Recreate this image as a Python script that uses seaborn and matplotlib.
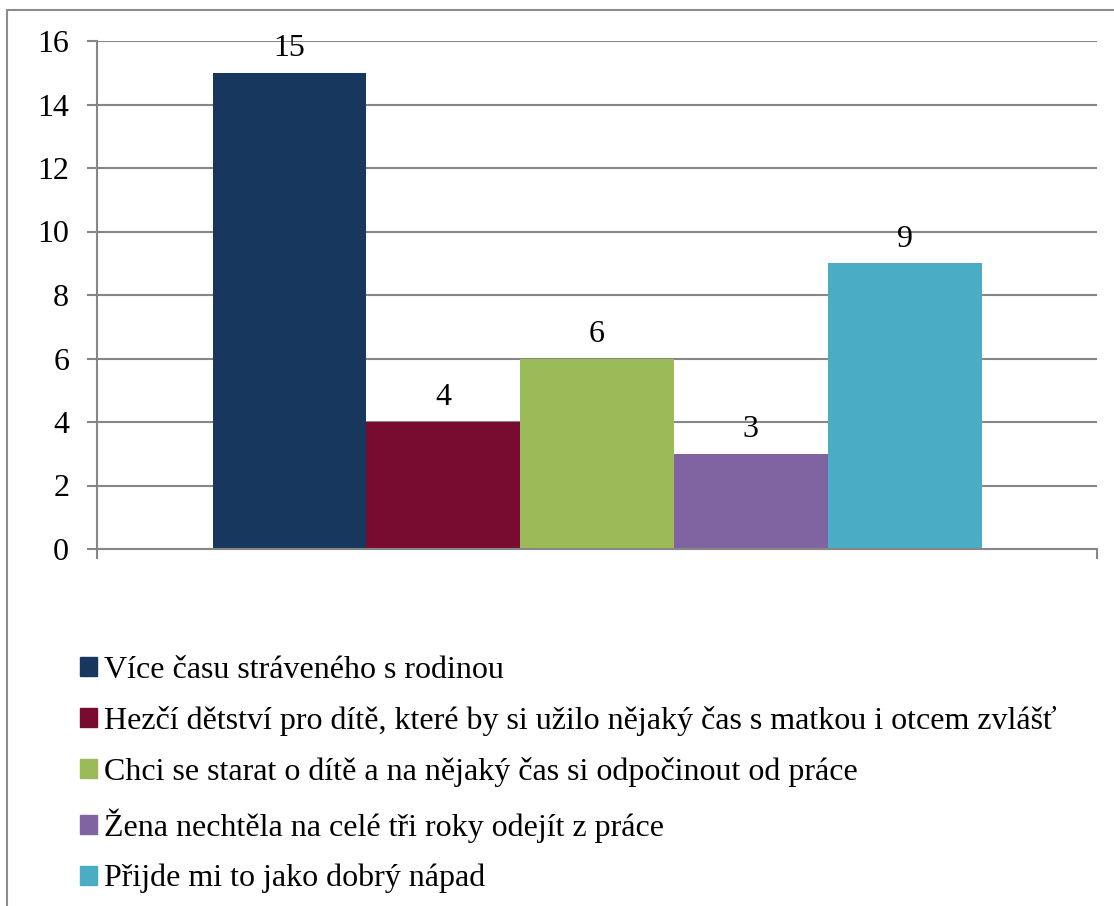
import matplotlib
matplotlib.use("Agg")
import matplotlib.pyplot as plt
import matplotlib.patches as mpatches
import seaborn as sns
import pandas as pd

# Data
duvody = [
    "Více času stráveného s rodinou",
    "Hezčí dětství pro dítě, které by si užilo nějaký čas s matkou i otcem zvlášť",
    "Chci se starat o dítě a na nějaký čas si odpočinout od práce",
    "Žena nechtěla na celé tři roky odejít z práce",
    "Přijde mi to jako dobrý nápad",
]
pocty = [15, 4, 6, 3, 9]
barvy = ["#17375E", "#770B30", "#9BBB59", "#8064A2", "#4BACC6"]
y_ticks = [0, 2, 4, 6, 8, 10, 12, 14, 16]

df = pd.DataFrame({"kat": [""] * len(duvody), "duvod": duvody, "pocet": pocty})

sns.set_theme(style="white")
plt.rcParams["font.family"] = ["Liberation Serif", "DejaVu Serif"]
plt.rcParams["text.color"] = "black"
plt.rcParams["ytick.labelcolor"] = "black"

fig = plt.figure(figsize=(11.14, 9.06), dpi=100)
W, H = 1114, 906
ax = fig.add_axes([97 / W, 1 - 549 / H, 1000 / W, 508 / H])

sns.barplot(data=df, x="kat", y="pocet", hue="duvod", hue_order=duvody,
            palette=barvy, width=0.769, gap=0, dodge=True, saturation=1,
            edgecolor="none", linewidth=0, legend=False, ax=ax)

for cont in ax.containers:
    ax.bar_label(cont, fmt="%d", padding=7, fontsize=23, color="black")

ax.set_xlim(-0.5, 0.5)
ax.set_ylim(0, 16)
ax.set_yticks(y_ticks)
ax.set_yticklabels([str(t) for t in y_ticks])
ax.set_xlabel("")
ax.set_ylabel("")
ax.set_xticks([])
ax.set_xticks([-0.5, 0.5], minor=True)
ax.tick_params(axis="x", which="minor", direction="out", length=7, width=1.5,
               color="#868686", bottom=True)
ax.tick_params(axis="y", direction="out", length=7, width=1.5, color="#868686",
               labelsize=23, labelcolor="black", pad=13, left=True)
ax.grid(axis="y", color="#868686", linewidth=1.5)
ax.set_axisbelow(True)
for s in ["top", "right"]:
    ax.spines[s].set_visible(False)
for s in ["left", "bottom"]:
    ax.spines[s].set_color("#868686")
    ax.spines[s].set_linewidth(1.5)

# legend below the plot
handles = [mpatches.Patch(color=c, label=l) for c, l in zip(barvy, duvody)]
fig.legend(handles=handles, loc="upper left", bbox_to_anchor=(80 / W, 1 - 656 / H),
           frameon=False, fontsize=23, handlelength=0.54, handleheight=0.54,
           handletextpad=0.2, labelspacing=0.66, borderpad=0, borderaxespad=0,
           labelcolor="black")

# outer frame of the chart
fig.patches.append(mpatches.Rectangle((7 / W, -0.1), 1.2, 1.1 - 10 / H,
                                      transform=fig.transFigure, fill=False,
                                      edgecolor="#8c8c8c", linewidth=1.5))

fig.savefig("out.png", dpi=100)
